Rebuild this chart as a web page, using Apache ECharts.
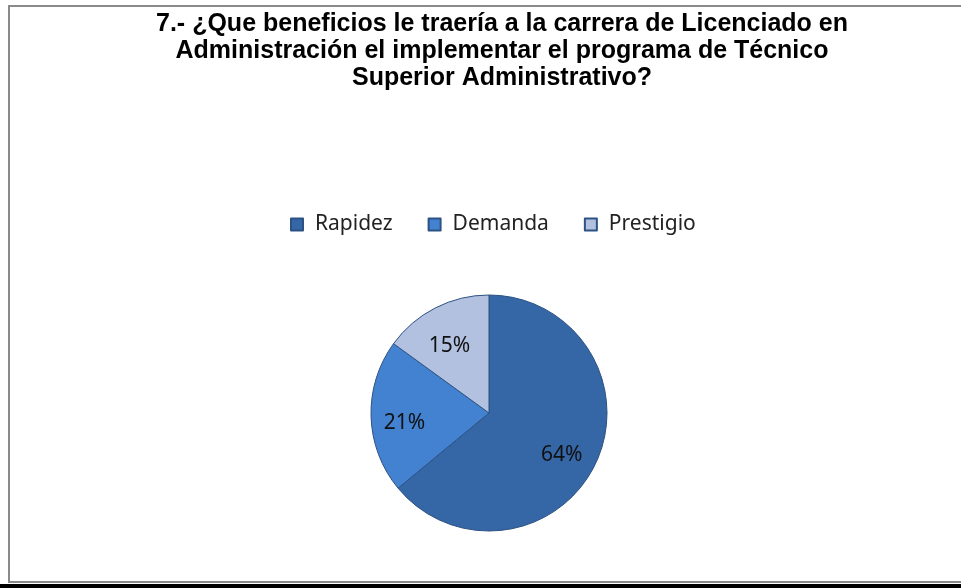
<!DOCTYPE html>
<html>
<head>
<meta charset="utf-8">
<script src="https://cdn.jsdelivr.net/npm/echarts@6/dist/echarts.min.js"></script>
<style>
html,body{margin:0;padding:0;background:#fff;}
#chart{width:961px;height:588px;}
</style>
</head>
<body>
<div id="chart"></div>
<script>
var titleText = '7.- ¿Que beneficios le traería a la carrera de Licenciado en\nAdministración el implementar el programa de Técnico\nSuperior Administrativo?';
var categories = ['Rapidez', 'Demanda', 'Prestigio'];
var values = [64, 21, 15];
var colors = ['#3566a6', '#4282d0', '#b2c1df'];

var cx = 489, cy = 413, r = 118;

var chart = echarts.init(document.getElementById('chart'));
chart.setOption({
    animation: false,
    backgroundColor: '#fff',
    title: {
        text: titleText,
        left: 497,
        textAlign: 'center',
        top: 6,
        textStyle: {
            fontFamily: 'Liberation Sans',
            fontWeight: 'bold',
            fontSize: 25,
            lineHeight: 27,
            color: '#000'
        }
    },
    legend: {
        data: categories,
        top: 209,
        left: 285,
        padding: 5,
        itemWidth: 12,
        itemHeight: 12,
        itemGap: 35,
        icon: 'rect',
        textStyle: {
            fontFamily: 'Noto Sans',
            fontSize: 21,
            color: '#222',
            padding: [0, 0, 0, 7]
        }
    },
    graphic: [
        {
            type: 'rect',
            shape: {x: 9, y: 6, width: 960, height: 576},
            style: {fill: 'none', stroke: '#8a8a8a', lineWidth: 2},
            silent: true
        },
        {
            type: 'rect',
            shape: {x: 0, y: 584, width: 961, height: 4},
            style: {fill: '#000'},
            silent: true
        }
    ],
    series: [
        {
            type: 'pie',
            center: [cx, cy],
            radius: [0, r],
            startAngle: 90,
            clockwise: true,
            itemStyle: {borderColor: '#2d5283', borderWidth: 1},
            label: {show: false},
            data: categories.map(function (c, i) {
                return {name: c, value: values[i], itemStyle: {color: colors[i]}};
            })
        },
        {
            // transparent copy, only carries the percentage labels further out
            type: 'pie',
            center: [cx, cy],
            radius: [0, r * 1.35],
            startAngle: 90,
            clockwise: true,
            silent: true,
            itemStyle: {color: 'rgba(0,0,0,0)'},
            label: {
                position: 'inside',
                formatter: '{d}%',
                fontFamily: 'Noto Sans',
                fontSize: 21,
                color: '#111',
                offset: [-2, 7]
            },
            data: categories.map(function (c, i) {
                return {name: c, value: values[i]};
            })
        }
    ]
});
</script>
</body>
</html>
